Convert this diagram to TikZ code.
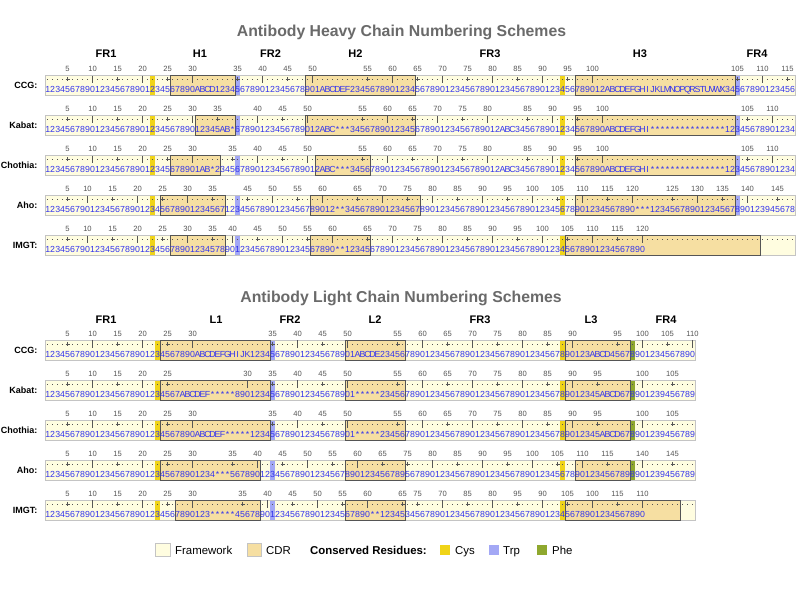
\documentclass[tikz,border=0pt]{standalone}
\usepackage{fontspec}
\setmainfont{Liberation Sans}
\definecolor{fwfill}{HTML}{FFFDE0}
\definecolor{fwline}{HTML}{C4C4C4}
\definecolor{cdrfill}{HTML}{F6DFA2}
\definecolor{cdrline}{HTML}{555555}
\definecolor{cys}{HTML}{F0D418}
\definecolor{trp}{HTML}{A3A8F5}
\definecolor{phe}{HTML}{8FA82E}
\definecolor{seqblue}{HTML}{3333EE}
\definecolor{labgray}{HTML}{555555}
\definecolor{titlegray}{HTML}{6A6A6A}
\ExplSyntaxOn
\NewDocumentCommand{\seqtext}{m}{\tl_map_inline:nn{#1}{\makebox[5pt]{##1}}}
\ExplSyntaxOff
\tikzset{
 lab/.style={anchor=base, inner sep=0pt, font=\fontsize{7.6}{9}\selectfont, text=labgray},
 tickline/.style={draw=labgray, line width=0.6pt},
 seqrow/.style={anchor=base west, inner sep=0pt, font=\fontsize{8.8}{10}\selectfont, text=seqblue},
 schemename/.style={anchor=base east, inner sep=0pt, font=\bfseries\fontsize{9}{10}\selectfont},
 region/.style={anchor=base, inner sep=0pt, font=\bfseries\fontsize{11}{13}\selectfont},
 charttitle/.style={anchor=base, inner sep=0pt, font=\bfseries\fontsize{15.8}{18}\selectfont, text=titlegray},
 legendtext/.style={anchor=base west, inner sep=0pt, font=\fontsize{11.4}{13}\selectfont},
}
\newcommand\strip[7]{%
  \fill[fwfill] (45,#1) rectangle ({45+5*#2},{#1+20});
  \foreach \a/\b in {#6}{\fill[cdrfill] ({45+5*(\a-1)},#1) rectangle ({45+5*\b},{#1+20});}
  \foreach \c/\col in {#7}{\fill[fill=\col] ({45+5*(\c-1)},#1) rectangle ({45+5*\c},{#1+20});}
  \draw[fwline, line width=1pt] (45,#1) rectangle ({45+5*#2},{#1+20});
  \foreach \a/\b in {#6}{\draw[cdrline, line width=1pt] ({45+5*(\a-1)},#1) rectangle ({45+5*\b},{#1+20});}
  \draw[labgray, line width=0.9pt, dash pattern=on 0.9pt off 4.1pt] ({45+2.05},{#1+4}) -- ({45+5*#2},{#1+4});
  \foreach \c/\l in {#5}{%
    \node[lab] at ({45+5*\c-2.5},{#1-3.8}) {\l};
    \pgfmathtruncatemacro\m{mod(\l,10)}%
    \ifnum\m=0
      \draw[tickline] ({45+5*\c-2.5},#1) -- ({45+5*\c-2.5},{#1+7.5});
    \else
      \draw[tickline] ({45+5*\c-4.5},{#1+3.8}) -- ({45+5*\c-0.5},{#1+3.8}) ({45+5*\c-2.5},{#1+1.8}) -- ({45+5*\c-2.5},{#1+5.8});
    \fi
  }
  \node[seqrow] at (45,{#1+17}) {\seqtext{#4}};
  \node[schemename] at (37.5,{#1+13.3}) {#3};
}
\begin{document}
\begin{tikzpicture}[x=1pt,y=-1pt]
\fill[white] (0,0) rectangle (800,600);
\useasboundingbox (0,0) rectangle (800,600);
% ---------- Heavy chain ----------
\node[charttitle] (titleH) at (401.5,36.7) {Antibody Heavy Chain Numbering Schemes};
\foreach \t/\x [count=\i] in {FR1/106,H1/200,FR2/270.5,H2/355.5,FR3/490,H3/640,FR4/757}
  \node[region] (hreg\i) at (\x,57.7) {\t};
\strip{75.5}{150}{CCG:}
 {1234567890 1234567890 1234567890 ABCD 1234567890 1234567890 1 ABCDEF 234567890 1234567890 1234567890 1234567890 1234567890 12 ABCDEFGHIJKLMNOPQRSTUVWX 34567890 123456}
 {5/5,10/10,15/15,20/20,25/25,30/30,39/35,44/40,49/45,54/50,65/55,70/60,75/65,80/70,85/75,90/80,95/85,100/90,105/95,110/100,139/105,144/110,149/115}
 {26/38,53/74,107/138}
 {22/cys,104/cys,39/trp,139/trp}
\strip{115.5}{150}{Kabat:}
 {1234567890 1234567890 1234567890 12345 AB * 67890 1234567890 12 ABC *** 34567890 1234567890 1234567890 12 ABC 34567890 1234567890 ABCDEFGHI *************** 1234567890 1234}
 {5/5,10/10,15/15,20/20,25/25,30/30,35/35,43/40,48/45,53/50,64/55,69/60,74/65,79/70,84/75,89/80,97/85,102/90,107/95,112/100,141/105,146/110}
 {31/38,53/74,107/138}
 {22/cys,104/cys,39/trp,139/trp}
\strip{155.5}{150}{Chothia:}
 {1234567890 1234567890 1234567890 1 AB * 234567890 1234567890 12 ABC *** 34567890 1234567890 1234567890 12 ABC 34567890 1234567890 ABCDEFGHI *************** 1234567890 1234}
 {5/5,10/10,15/15,20/20,25/25,30/30,38/35,43/40,48/45,53/50,64/55,69/60,74/65,79/70,84/75,89/80,97/85,102/90,107/95,112/100,141/105,146/110}
 {26/35,55/65,107/138}
 {22/cys,104/cys,39/trp,139/trp}
\strip{195.5}{150}{Aho:}
 {1234567 90 1234567890 123 4567890 1234567 1234567890 1234567890 12 ** 34567890 1234567890 1234567890 1234567890 1234567890 1234567890 *** 1234567890 1234567 890123 9 45678}
 {5/5,9/10,14/15,19/20,24/25,29/30,34/35,41/45,46/50,51/55,56/60,63/65,68/70,73/75,78/80,83/85,88/90,93/95,98/100,103/105,108/110,113/115,118/120,126/125,131/130,136/135,141/140,147/145}
 {24/36,54/75,107/138}
 {22/cys,104/cys,39/trp,139/trp}
\strip{235.5}{150}{IMGT:}
 {1234567 90 1234567890 1234567890 1234 5 78 90 1234567890 1234567890 ** 1234567890 1234567890 1234567890 1234567890 1234567890 1234567890}
 {5/5,9/10,14/15,19/20,24/25,29/30,34/35,38/40,43/45,48/50,53/55,58/60,65/65,70/70,75/75,80/80,85/85,90/90,95/95,100/100,105/105,110/110,115/115,120/120}
 {26/36,54/65,105/143}
 {22/cys,104/cys,39/trp}
% ---------- Light chain ----------
\node[charttitle] (titleL) at (401,302.5) {Antibody Light Chain Numbering Schemes};
\foreach \t/\x [count=\i] in {FR1/106,L1/216,FR2/290,L2/375,FR3/480,L3/591,FR4/666}
  \node[region] (lreg\i) at (\x,323) {\t};
\strip{340}{130}{CCG:}
 {1234567890 1234567890 1234567890 ABCDEFGHIJK 1234567890 1234567890 1 ABCDE 234567890 1234567890 1234567890 1234567890 123 ABCD 4567890 1234567890}
 {5/5,10/10,15/15,20/20,25/25,30/30,46/35,51/40,56/45,61/50,71/55,76/60,81/65,86/70,91/75,96/80,101/85,106/90,115/95,120/100,125/105,130/110}
 {24/45,61/72,105/117}
 {23/cys,104/cys,46/trp,118/phe}
\strip{380}{130}{Kabat:}
 {1234567890 1234567890 1234567 ABCDEF ***** 890 1234567890 1234567890 1 ***** 234567890 1234567890 1234567890 1234567890 12345 ABCD 67890 123 9 456789}
 {5/5,10/10,15/15,20/20,25/25,41/30,46/35,51/40,56/45,61/50,71/55,76/60,81/65,86/70,91/75,96/80,101/85,106/90,111/95,120/100,126/105}
 {24/45,61/72,105/117}
 {23/cys,104/cys,46/trp,118/phe}
\strip{420}{130}{Chothia:}
 {1234567890 1234567890 1234567890 ABCDEF ***** 1234567890 1234567890 1 ***** 234567890 1234567890 1234567890 1234567890 12345 ABCD 67890 123 9 456789}
 {5/5,10/10,15/15,20/20,25/25,30/30,46/35,51/40,56/45,61/50,71/55,76/60,81/65,86/70,91/75,96/80,101/85,106/90,111/95,120/100,126/105}
 {24/45,61/72,105/117}
 {23/cys,104/cys,46/trp,118/phe}
\strip{460}{130}{Aho:}
 {1234567890 1234567890 1234567890 1234 *** 567890 1234567890 1234567890 123456789 567890 1234567890 1234567890 1234567890 123456789 890123 9 456789}
 {5/5,10/10,15/15,20/20,25/25,30/30,38/35,43/40,48/45,53/50,58/55,63/60,68/65,73/75,78/80,83/85,88/90,93/95,98/100,103/105,108/110,113/115,120/140,126/145}
 {24/43,61/72,107/117}
 {23/cys,104/cys,46/trp,118/phe}
\strip{500}{130}{IMGT:}
 {1234567890 1234567890 1234567890 123 ***** 4567890 1234567890 1234567890 ** 12345 34567890 1234567890 1234567890 1234567890 1234567890}
 {5/5,10/10,15/15,20/20,25/25,30/30,40/35,45/40,50/45,55/50,60/55,65/60,72/65,75/75,80/70,85/85,90/80,95/95,100/90,105/105,110/100,115/115,120/110}
 {27/43,61/72,105/127}
 {23/cys,104/cys,46/trp}
% ---------- Legend ----------
\draw[fwline, fill=fwfill, line width=1pt] (155.5,543) rectangle (170,556);
\node[legendtext] (lgfw) at (175,554) {Framework};
\draw[fwline, fill=cdrfill, line width=1pt] (247,543) rectangle (261.5,556);
\node[legendtext] (lgcdr) at (266,554) {CDR};
\node[legendtext, font=\bfseries\fontsize{11.4}{13}\selectfont] (lgcons) at (310,554) {Conserved Residues:};
\fill[cys] (440,544.5) rectangle (450,554.5);
\node[legendtext] (lgcys) at (455,554) {Cys};
\fill[trp] (488.5,544.5) rectangle (498.5,554.5);
\node[legendtext] (lgtrp) at (503,554) {Trp};
\fill[phe] (537,544.5) rectangle (547,554.5);
\node[legendtext] (lgphe) at (552,554) {Phe};
\end{tikzpicture}
\end{document}
